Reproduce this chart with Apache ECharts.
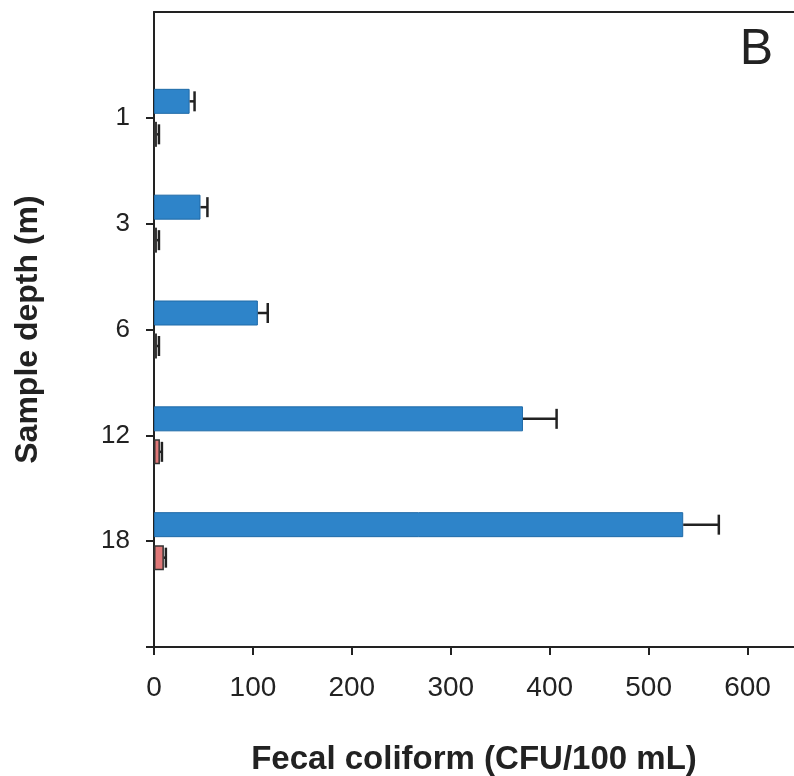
<!DOCTYPE html>
<html>
<head>
<meta charset="utf-8">
<title>Fecal coliform by sample depth</title>
<script src="https://cdn.jsdelivr.net/npm/echarts@6/dist/echarts.min.js"></script>
<style>
    html, body { margin: 0; padding: 0; background: #fff; }
    #chart { width: 794px; height: 776px; }
</style>
</head>
<body>
<div id="chart"></div>
<script>
// 資料
const depths = ['1', '3', '6', '12', '18']
const meanA = [36, 47, 105, 373, 535]
const errA = [5, 7, 10, 34, 36]
const meanB = [3, 3, 3, 6, 10]
const errB = [2, 2, 2, 2, 2]
const xTicks = [0, 100, 200, 300, 400, 500, 600]

// 圖表
const chart = echarts.init(document.getElementById('chart'))

const font = 'Liberation Sans, Arial, sans-serif'
const ink = '#222'
const barWidth = 25
const barGapPx = 8
const halfStep = (barWidth + barGapPx) / 2
// 右邊框被裁掉，軸在畫面邊緣約 647 處結束
const xMax = 647

// 類別軸兩端各留一格空白
const cats = [''].concat(depths, [''])
const pad = arr => [null].concat(arr, [null])

const errorSeries = (means, errs, shift) => ({
    type: 'custom',
    z: 5,
    silent: true,
    encode: { x: 1, y: 0 },
    data: means.map((m, i) => [i + 1, m, errs[i]]),
    renderItem: (params, api) => {
        const idx = api.value(0)
        const m = api.value(1)
        const e = api.value(2)
        const p0 = api.coord([m, idx])
        const p1 = api.coord([m + e, idx])
        const y = p0[1] + shift
        const style = { stroke: ink, lineWidth: 2.5 }
        return {
            type: 'group',
            children: [
                { type: 'line', shape: { x1: p0[0], y1: y, x2: p1[0], y2: y }, style },
                { type: 'line', shape: { x1: p1[0], y1: y - 10, x2: p1[0], y2: y + 10 }, style }
            ]
        }
    }
})

chart.setOption({
    animation: false,
    backgroundColor: '#fff',
    title: {
        text: 'B',
        right: 16,
        top: 20,
        textStyle: { fontFamily: font, fontSize: 50, fontWeight: 'normal', color: ink }
    },
    grid: {
        left: 154,
        top: 12,
        right: 0,
        height: 635,
        outerBoundsMode: 'none'
    },
    xAxis: [
        {
            type: 'value',
            min: 0,
            max: xMax,
            interval: 100,
            name: 'Fecal coliform (CFU/100 mL)',
            nameLocation: 'middle',
            nameGap: 96,
            nameTextStyle: { fontFamily: font, fontSize: 33, fontWeight: 'bold', color: ink },
            splitLine: { show: false },
            axisLine: { show: true, onZero: false, lineStyle: { color: ink, width: 2 } },
            axisTick: { show: true, length: 8, lineStyle: { color: ink, width: 2 } },
            axisLabel: {
                fontFamily: font,
                fontSize: 28,
                color: ink,
                margin: 27,
                showMaxLabel: false,
                formatter: v => (xTicks.includes(v) ? String(v) : '')
            }
        },
        {
            // 上方框線
            type: 'value',
            position: 'top',
            min: 0,
            max: xMax,
            axisLine: { show: true, onZero: false, lineStyle: { color: ink, width: 2 } },
            axisTick: { show: false },
            axisLabel: { show: false },
            splitLine: { show: false }
        }
    ],
    yAxis: {
        type: 'category',
        data: cats,
        inverse: true,
        boundaryGap: false,
        name: 'Sample depth (m)',
        nameLocation: 'middle',
        nameRotate: 90,
        nameGap: 110,
        nameTextStyle: { fontFamily: font, fontSize: 32, fontWeight: 'bold', color: ink },
        axisLine: { show: true, lineStyle: { color: ink, width: 2 } },
        axisTick: {
            length: 8,
            interval: index => index !== 0,
            lineStyle: { color: ink, width: 2 }
        },
        axisLabel: { fontFamily: font, fontSize: 26, color: ink, margin: 24 }
    },
    series: [
        {
            name: 'A',
            type: 'bar',
            data: pad(meanA),
            barWidth: barWidth,
            barGap: (barGapPx / barWidth * 100) + '%',
            itemStyle: { color: '#2e84c9', borderColor: '#1f6aa8', borderWidth: 1 }
        },
        {
            name: 'B',
            type: 'bar',
            data: pad(meanB),
            barWidth: barWidth,
            itemStyle: { color: '#e07878', borderColor: '#333', borderWidth: 1.5 }
        },
        errorSeries(meanA, errA, -halfStep),
        errorSeries(meanB, errB, halfStep)
    ]
})
</script>
</body>
</html>
